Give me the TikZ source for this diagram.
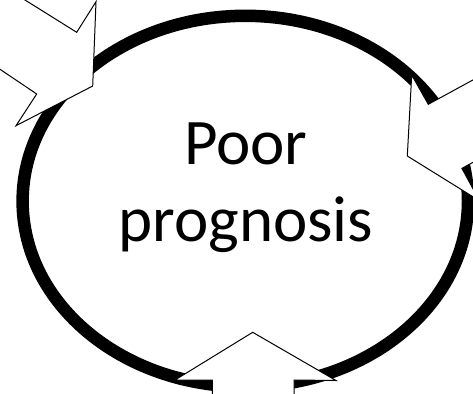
\documentclass[tikz,border=0pt]{standalone}
\usepackage{fontspec}
\setmainfont{Carlito}
\begin{document}
\begin{tikzpicture}[x=1pt,y=-1pt,
  ring/.style={draw=black,line width=12.5pt},
  blockarrow/.style={draw=black,fill=white,line width=1pt,line join=miter},
  label/.style={anchor=base,inner sep=0pt,font=\fontsize{65}{78}\selectfont}]
\useasboundingbox (0,0) rectangle (473,393);
\clip (0,0) rectangle (473,393);
% ring
\draw[ring] (245.3,201.2) ellipse [x radius=222.7, y radius=185.4];
% top-left arrow
\coordinate (a1b1) at (-26.7,-32.3);
\coordinate (a1i1) at (76.7,32.3);
\coordinate (a1h1) at (96,1.7);
\coordinate (a1t)  at (92.7,86);
\coordinate (a1h2) at (16,125.7);
\coordinate (a1i2) at (36.7,94);
\coordinate (a1b2) at (-36.7,44.6);
\draw[blockarrow] (a1b1) -- (a1i1) -- (a1h1) -- (a1t) -- (a1h2) -- (a1i2) -- (a1b2) -- cycle;
% right arrow
\coordinate (a2b1) at (603.9,8.5);
\coordinate (a2i1) at (428.3,104.3);
\coordinate (a2h1) at (411.7,75);
\coordinate (a2t)  at (407.3,156);
\coordinate (a2h2) at (479.6,200.9);
\coordinate (a2i2) at (461.9,168.4);
\coordinate (a2b2) at (637.5,72.6);
\draw[blockarrow] (a2b1) -- (a2i1) -- (a2h1) -- (a2t) -- (a2h2) -- (a2i2) -- (a2b2) -- cycle;
% bottom arrow
\coordinate (a3b1) at (212.3,430);
\coordinate (a3i1) at (212.3,380);
\coordinate (a3h1) at (175,380);
\coordinate (a3t)  at (252.7,332.3);
\coordinate (a3h2) at (336,380.5);
\coordinate (a3i2) at (294,380);
\coordinate (a3b2) at (294,430);
\draw[blockarrow] (a3b1) -- (a3i1) -- (a3h1) -- (a3t) -- (a3h2) -- (a3i2) -- (a3b2) -- cycle;
% text
\node[label] (l1) at (245.8,164) {Poor};
\node[label] (l2) at (245.8,241.7) {prognosis};
\end{tikzpicture}
\end{document}
